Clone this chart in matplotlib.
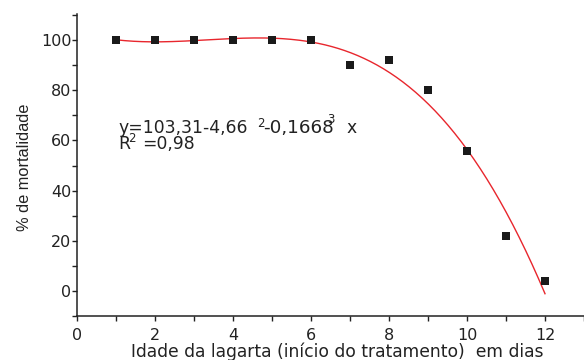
import numpy as np
import matplotlib.pyplot as plt
from matplotlib.ticker import MultipleLocator

plt.rcParams['font.family'] = ['DejaVu Sans']

# dados
idade = [1, 2, 3, 4, 5, 6, 7, 8, 9, 10, 11, 12]
mortalidade = [100, 100, 100, 100, 100, 100, 90, 92, 80, 56, 22, 4]
# coeficientes da regressao cubica (a + b x + c x^2 + d x^3)
coef = [103.31, -4.66, 1.665, -0.1668]

fig = plt.figure(figsize=(5.84, 3.6), dpi=100)
ax = fig.add_axes([0.132, 0.122, 0.868, 0.839])

xs = np.linspace(min(idade), max(idade), 200)
ys = np.polynomial.polynomial.polyval(xs, coef)
ax.plot(xs, ys, color='#e8262d', lw=1)
ax.plot(idade, mortalidade, 's', color='#1a1a1a', ms=6.2, mew=0)

ax.set_xlim(0, 13)
ax.set_ylim(-10, 110.4)
ax.xaxis.set_major_locator(MultipleLocator(2))
ax.xaxis.set_minor_locator(MultipleLocator(1))
ax.set_yticks([0, 20, 40, 60, 80, 100])
ax.yaxis.set_minor_locator(MultipleLocator(10))
ax.tick_params(which='both', direction='out', length=3.5, width=1, colors='#222222',
               labelcolor='#222222', labelsize=11.5)
ax.tick_params(axis='y', pad=0.5)
ax.tick_params(axis='x', pad=5)
ax.spines['right'].set_visible(False)
ax.spines['top'].set_visible(False)
for s in ['left', 'bottom']:
    ax.spines[s].set_linewidth(1.1)
    ax.spines[s].set_color('#222222')

ax.set_xlabel('Idade da lagarta (início do tratamento)  em dias', fontsize=12.3, color='#222222')
ax.xaxis.set_label_coords(0.513, -0.086)
ax.set_ylabel('% de mortalidade', fontsize=11.8, family='Liberation Sans', color='#222222')
ax.yaxis.set_label_coords(-0.089, 0.492)

# equacao (posicoes em pixels convertidas para dados)
def px(x):
    return (x - 77) / 39.0

ax.text(px(118), 62.9, 'y=103,31-4,66', fontsize=12.4, color='#222222')
ax.text(px(257), 65.5, '2', fontsize=8.5, color='#222222')
ax.text(px(263), 62.9, '-0,1668', fontsize=13.2, color='#222222')
ax.text(px(346), 62.9, 'x', fontsize=12.4, color='#222222')
ax.text(px(327), 67.0, '3', fontsize=8.5, color='#222222')
ax.text(px(118), 56.6, 'R', fontsize=12.4, color='#222222')
ax.text(px(142), 56.6, '=0,98', fontsize=12.4, color='#222222')
ax.text(px(128), 59.3, '2', fontsize=8.5, color='#222222')

fig.savefig('out.png', dpi=100)
